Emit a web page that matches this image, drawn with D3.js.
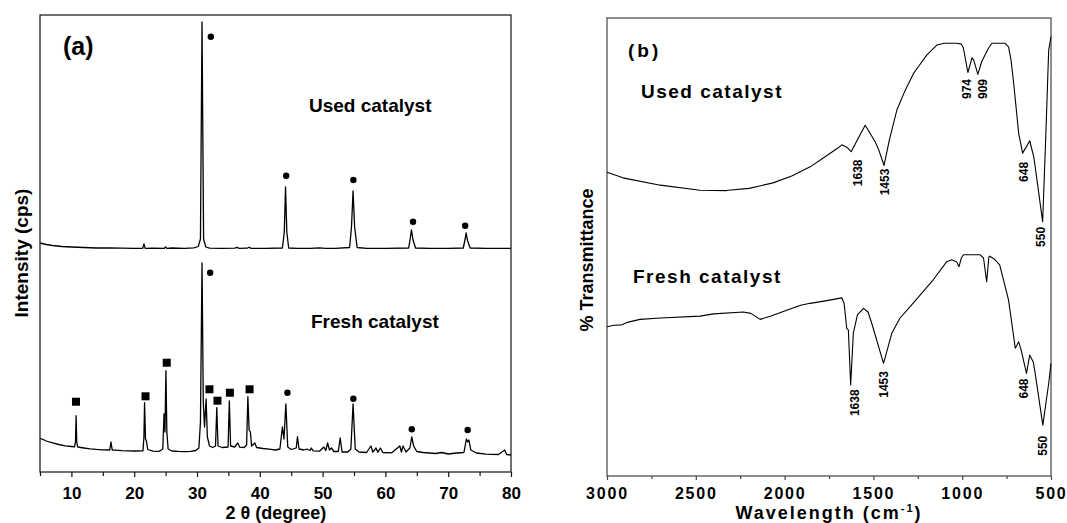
<!DOCTYPE html>
<html>
<head>
<script src="https://d3js.org/d3.v7.min.js"></script>
<style>
  body { margin: 0; background: #fff; }
  text { font-family: "Liberation Sans", Arial, sans-serif; font-weight: bold; fill: #000; }
</style>
</head>
<body>
<svg id="chart" width="1067" height="523"></svg>
<script>
// ---------- data: (a) XRD, 2 theta (degree) vs intensity (cps, arbitrary offset) ----------
var xrdTicks = [10, 20, 30, 40, 50, 60, 70, 80];
var xrdMinor = [5, 15, 25, 35, 45, 55, 65, 75];

var usedXrd = [[5,2290],[6,2275],[7,2265],[8.5,2255],[10,2250],[12,2245],[14,2240],[16,2240],[18,2238],[20,2236],
  [21.35,2236],[21.55,2280],[21.75,2236],[23,2238],[24.8,2236],[25,2252],[25.2,2236],[26,2240],[28,2236],[29.5,2242],
  [30.2,2255],[30.55,2330],[30.8,4500],[31.05,2330],[31.4,2250],[32,2238],[34,2236],[36,2238],[36.4,2246],[36.7,2236],
  [38,2238],[38.3,2248],[38.6,2236],[41,2236],[43.6,2240],[43.9,2400],[44.1,2850],[44.3,2400],[44.6,2240],[46,2236],
  [48,2236],[49.5,2242],[50.5,2236],[52,2236],[54.3,2245],[54.6,2450],[54.85,2810],[55.1,2450],[55.5,2245],[57,2236],
  [60,2236],[63.7,2240],[63.95,2330],[64.15,2420],[64.4,2320],[64.8,2240],[67,2236],[70,2236],[72.4,2240],[72.7,2330],
  [72.85,2390],[73.1,2310],[73.5,2240],[76,2236],[80,2236]];

var freshXrd = [[5,337],[5.5,325],[6,310],[7,292],[8,275],[9,262],[10,255],[10.5,252],[10.65,300],[10.75,563],[10.85,300],
  [11,250],[12,240],[13,232],[14,226],[15,222],[16.1,220],[16.3,300],[16.5,220],[17,218],[18,214],[19,212],[20,210],
  [21.4,212],[21.55,350],[21.65,693],[21.8,330],[21.95,310],[22.15,225],[23,208],[24,207],[24.55,230],[24.75,580],
  [24.9,400],[25.05,1013],[25.2,400],[25.4,230],[26,210],[27,206],[28,204],[29,206],[29.8,215],[30.3,240],[30.55,500],
  [30.8,2090],[31,700],[31.2,450],[31.45,730],[31.65,350],[32,260],[32.5,245],[32.95,260],[33.15,643],[33.35,260],
  [34,245],[34.95,250],[35.15,710],[35.35,260],[36,250],[36.5,290],[36.8,248],[37.5,245],[37.9,270],[38.1,753],
  [38.3,420],[38.5,400],[38.7,260],[39.2,290],[39.5,245],[40.5,235],[41.5,228],[42.5,220],[43.2,230],[43.6,450],
  [43.85,330],[44.15,680],[44.45,250],[45,225],[45.8,240],[46,353],[46.25,230],[47,220],[47.5,230],[48,215],[48.2,240],
  [48.5,212],[49.5,208],[50.2,250],[50.5,215],[50.8,290],[51.1,220],[51.4,240],[51.8,205],[52.5,205],[52.8,340],
  [53.1,200],[54,200],[54.5,230],[54.85,680],[55.2,230],[55.8,200],[57,195],[57.7,260],[58,198],[58.5,240],[58.8,198],
  [59.2,240],[59.6,195],[61,192],[62.3,260],[62.55,200],[62.8,260],[63.3,200],[63.9,240],[64.2,350],[64.5,260],
  [65,205],[66,195],[68,185],[69,195],[70,180],[71.3,190],[72.5,195],[72.9,330],[73.1,300],[73.3,320],[73.6,220],
  [74.5,190],[76,178],[78,175],[79,220],[79.3,175],[80,170]];

// phase markers: dots and squares
var usedDots = [[32.2,4353],[44.2,2963],[54.9,2920],[64.4,2503],[72.7,2463]];
var freshDots = [[32.1,1993],[44.4,793],[54.9,733],[64.2,427],[73.1,420]];
var freshSquares = [[10.73,703],[21.8,757],[25.18,1093],[31.98,827],[33.26,713],[35.24,793],[38.37,827]];

// ---------- data: (b) FTIR, wavenumber vs % transmittance ----------
var ftirTicks = [3000, 2500, 2000, 1500, 1000, 500];
var ftirMinor = [2750, 2250, 1750, 1250, 750];

var usedFtir = [[3000,66.3],[2910,65.1],[2700,63.5],[2476,62.4],[2330,62.3],[2318,62.4],[2200,62.8],[2065,64.0],
  [1960,65.5],[1856,67.5],[1772,69.7],[1700,71.6],[1678,72.3],[1650,71.8],[1625,70.8],[1590,73.4],[1546,76.6],
  [1490,73.0],[1470,71.2],[1440,67.8],[1410,73.4],[1368,79.9],[1320,84.3],[1274,87.9],[1246,89.4],[1200,91.9],
  [1143,94.1],[1100,94.5],[1030,94.5],[1005,94.3],[993,93.4],[968,88.1],[945,91.3],[935,90.8],[912,87.7],[890,90.5],
  [852,93.4],[833,94.5],[760,94.5],[739,93.7],[725,90.8],[710,85.7],[682,74.8],[660,70.5],[640,71.8],[620,73.2],
  [597,69.7],[575,63.5],[547,55.5],[530,73.4],[513,93.0],[500,95.9]];

var freshFtir = [[3000,32.6],[2960,32.9],[2917,33.0],[2880,33.6],[2814,34.2],[2700,34.5],[2476,34.9],[2400,35.4],
  [2232,35.8],[2190,35.5],[2138,34.2],[2080,34.9],[1988,36.2],[1910,37.3],[1856,37.7],[1762,38.3],[1678,38.9],
  [1665,37.7],[1650,32.2],[1641,31.9],[1628,19.9],[1613,31.2],[1590,35.2],[1556,36.6],[1530,35.8],[1509,33.3],
  [1443,24.6],[1396,31.2],[1350,34.5],[1293,37.0],[1162,42.9],[1087,46.8],[1059,47.2],[1030,46.7],[1018,45.7],
  [1005,47.6],[993,48.3],[899,48.3],[880,47.6],[862,42.4],[850,47.8],[845,48.0],[820,47.4],[789,46.1],[739,38.4],
  [701,27.9],[682,29.3],[668,27.5],[638,22.4],[620,26.4],[600,24.9],[589,22.4],[546,11.1],[513,20.2],[500,24.6]];

// band labels: [text, wavenumber, transmittance at label centre]
var usedBands = [["1638",1587,66.2],["1453",1436,64.2],["974",976,84.5],["909",886,84.5],["648",652,66.4],["550",558,52.2]];
var freshBands = [["1638",1603,16.0],["1453",1441,20.0],["648",656,19.1],["550",549,6.6]];

var svg = d3.select("#chart");

// =================== PANEL (a) ===================
var xA = d3.scaleLinear().domain([5, 80]).range([40, 511]);
var yA = d3.scaleLinear().domain([0, 4570]).range([472, 15]);

var panelA = svg.append("g");

// minor + major ticks
panelA.append("g")
  .attr("transform", "translate(0," + yA(0) + ")")
  .call(d3.axisBottom(xA).tickValues(xrdMinor).tickSize(4).tickFormat(""))
  .call(function(g) { g.select(".domain").remove(); g.selectAll("line").attr("stroke", "#111").attr("stroke-width", 1.2); });

panelA.append("g")
  .attr("transform", "translate(0," + yA(0) + ")")
  .call(d3.axisBottom(xA).tickValues(xrdTicks).tickSize(5).tickPadding(10))
  .call(function(g) {
    g.select(".domain").remove();
    g.selectAll("line").attr("stroke", "#111").attr("stroke-width", 1.2);
    g.selectAll("text").style("font-size", "17px");
  });

// frame
panelA.append("rect")
  .attr("x", xA(5)).attr("y", yA(4570))
  .attr("width", xA(80) - xA(5)).attr("height", yA(0) - yA(4570))
  .attr("fill", "none").attr("stroke", "#111").attr("stroke-width", 1.2);

var lineA = d3.line().x(function(d) { return xA(d[0]); }).y(function(d) { return yA(d[1]); });

panelA.selectAll(".xrd")
  .data([usedXrd, freshXrd])
  .enter().append("path")
    .attr("class", "xrd")
    .attr("d", lineA)
    .attr("fill", "none").attr("stroke", "#000").attr("stroke-width", 1.3)
    .attr("stroke-linejoin", "round");

panelA.selectAll(".dot")
  .data(usedDots.concat(freshDots))
  .enter().append("circle")
    .attr("class", "dot")
    .attr("cx", function(d) { return xA(d[0]); })
    .attr("cy", function(d) { return yA(d[1]); })
    .attr("r", 3.2).attr("fill", "#000");

panelA.selectAll(".sq")
  .data(freshSquares)
  .enter().append("rect")
    .attr("class", "sq")
    .attr("x", function(d) { return xA(d[0]) - 4; })
    .attr("y", function(d) { return yA(d[1]) - 4; })
    .attr("width", 8).attr("height", 8).attr("fill", "#000");

panelA.append("text").attr("x", 63).attr("y", 55).style("font-size", "25px").text("(a)");
panelA.append("text").attr("x", 309).attr("y", 112).style("font-size", "19px").text("Used catalyst");
panelA.append("text").attr("x", 311).attr("y", 328).style("font-size", "19px").text("Fresh catalyst");

panelA.append("text")
  .attr("x", 276).attr("y", 519).attr("text-anchor", "middle").style("font-size", "18px")
  .text("2 \u03b8 (degree)");

panelA.append("text")
  .attr("transform", "translate(28,253) rotate(-90)")
  .attr("text-anchor", "middle").style("font-size", "19px")
  .text("Intensity (cps)");

// =================== PANEL (b) ===================
var xB = d3.scaleLinear().domain([3000, 500]).range([607, 1051]);
var yB = d3.scaleLinear().domain([0, 100]).range([476, 18]);

var panelB = svg.append("g");

panelB.append("g")
  .attr("transform", "translate(0," + yB(0) + ")")
  .call(d3.axisBottom(xB).tickValues(ftirMinor).tickSize(3).tickFormat(""))
  .call(function(g) { g.select(".domain").remove(); g.selectAll("line").attr("stroke", "#444").attr("stroke-width", 1.2); });

panelB.append("g")
  .attr("transform", "translate(0," + yB(0) + ")")
  .call(d3.axisBottom(xB).tickValues(ftirTicks).tickSize(4).tickPadding(8).tickFormat(d3.format("d")))
  .call(function(g) {
    g.select(".domain").remove();
    g.selectAll("line").attr("stroke", "#444").attr("stroke-width", 1.2);
    g.selectAll("text").style("font-size", "16px").style("letter-spacing", "1.8px");
  });

panelB.append("rect")
  .attr("x", xB(3000)).attr("y", yB(100))
  .attr("width", xB(500) - xB(3000)).attr("height", yB(0) - yB(100))
  .attr("fill", "none").attr("stroke", "#444").attr("stroke-width", 1.2);

var lineB = d3.line().x(function(d) { return xB(d[0]); }).y(function(d) { return yB(d[1]); });

panelB.selectAll(".ftir")
  .data([usedFtir, freshFtir])
  .enter().append("path")
    .attr("class", "ftir")
    .attr("d", lineB)
    .attr("fill", "none").attr("stroke", "#000").attr("stroke-width", 1.1)
    .attr("stroke-linejoin", "round");

panelB.selectAll(".band")
  .data(usedBands.concat(freshBands))
  .enter().append("text")
    .attr("class", "band")
    .attr("transform", function(d) { return "translate(" + xB(d[1]) + "," + yB(d[2]) + ") rotate(-90)"; })
    .attr("text-anchor", "middle").attr("dy", "0.36em")
    .style("font-size", "12px")
    .text(function(d) { return d[0]; });

panelB.append("text").attr("x", 628).attr("y", 57).style("font-size", "19px").style("letter-spacing", "3px").text("(b)");
panelB.append("text").attr("x", 641).attr("y", 98).style("font-size", "19px").style("letter-spacing", "1.5px").text("Used catalyst");
panelB.append("text").attr("x", 633).attr("y", 283).style("font-size", "19px").style("letter-spacing", "1.5px").text("Fresh catalyst");

var xlabB = panelB.append("text")
  .attr("x", 829).attr("y", 519).attr("text-anchor", "middle")
  .style("font-size", "18px").style("letter-spacing", "2px");
xlabB.append("tspan").text("Wavelength (cm");
xlabB.append("tspan").attr("dy", "-7").style("font-size", "11px").text("-1");
xlabB.append("tspan").attr("dy", "7").text(")");

panelB.append("text")
  .attr("transform", "translate(593,260) rotate(-90)")
  .attr("text-anchor", "middle").style("font-size", "18px")
  .text("% Transmittance");
</script>
</body>
</html>
